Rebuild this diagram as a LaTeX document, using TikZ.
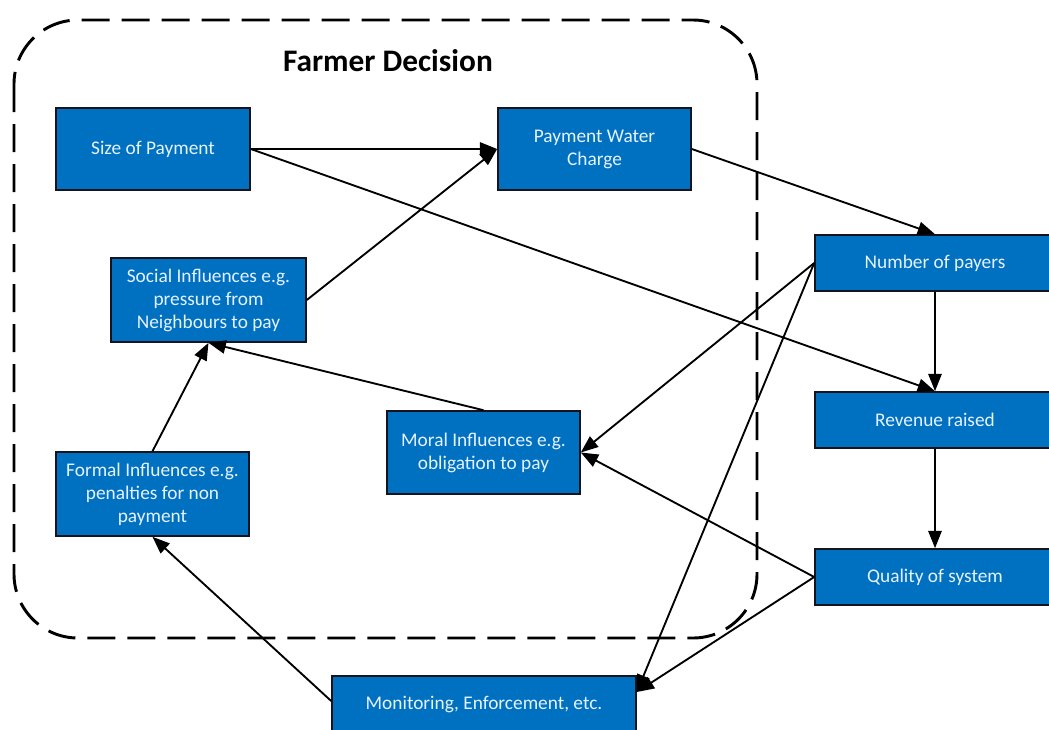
\documentclass[tikz,border=0pt]{standalone}
\usepackage{fontspec}
\setmainfont{Carlito}
\usetikzlibrary{arrows.meta,calc}
\definecolor{boxblue}{RGB}{0,112,192}
\definecolor{boxtext}{RGB}{230,242,255}
\definecolor{boxedge}{RGB}{20,20,30}
\begin{document}
\begin{tikzpicture}[x=0.75pt,y=-0.75pt,
  blk/.style={draw=boxedge, line width=1.2pt, fill=boxblue, text=boxtext,
    font=\fontsize{14.5}{17.25}\selectfont, align=center, inner sep=0pt},
  conn/.style={draw=black, line width=1.4pt, -{Triangle[length=13pt,width=10pt]}},
  frame/.style={draw=black, line width=2.2pt, dash pattern=on 21pt off 9pt, rounded corners=48pt}
]
\useasboundingbox (0,0) rectangle (1049,729);
\draw[frame] (14,20) rectangle (757,638);
\node[font=\fontsize{23.5}{26}\selectfont\bfseries] (title) at (388,61) {Farmer Decision};

\node[blk, minimum width=145.5pt, minimum height=61.5pt] (size) at (153,149) {Size of Payment};
\node[blk, minimum width=144.75pt, minimum height=61.5pt] (pwc) at (594.5,149) {Payment Water\\Charge};
\node[blk, minimum width=146.25pt, minimum height=63pt] (social) at (208.5,300) {Social Influences e.g.\\pressure from\\Neighbours to pay};
\node[blk, minimum width=144.75pt, minimum height=62.25pt] (moral) at (483.5,452.5) {Moral Influences e.g.\\obligation to pay};
\node[blk, minimum width=144.75pt, minimum height=63pt] (formal) at (152.5,494) {Formal Influences e.g.\\penalties for non\\payment};
\node[blk, minimum width=180pt, minimum height=42pt] (number) at (935,263) {Number of payers};
\node[blk, minimum width=180pt, minimum height=42pt] (revenue) at (935,420) {Revenue raised};
\node[blk, minimum width=180pt, minimum height=42pt] (quality) at (935,577) {Quality of system};
\node[blk, minimum width=228pt, minimum height=42pt] (mon) at (484,704) {Monitoring, Enforcement, etc.};

\coordinate (monin) at ($(mon.east)+(0,-12)$);
\coordinate (monout) at ($(mon.west)+(0,-3)$);

\draw[conn] (size.east) -- (pwc.west);
\draw[conn] (size.east) -- (revenue.north);
\draw[conn] (pwc.east) -- (number.north);
\draw[conn] (social.east) -- (pwc.west);
\draw[conn] (number.south) -- (revenue.north);
\draw[conn] (revenue.south) -- (quality.north);
\draw[conn] (number.west) -- (moral.east);
\draw[conn] (number.west) -- (monin);
\draw[conn] (quality.west) -- (moral.east);
\draw[conn] (quality.west) -- (monin);
\draw[conn] (moral.north) -- (social.south);
\draw[conn] (formal.north) -- (social.south);
\draw[conn] (monout) -- (formal.south);
\end{tikzpicture}
\end{document}
